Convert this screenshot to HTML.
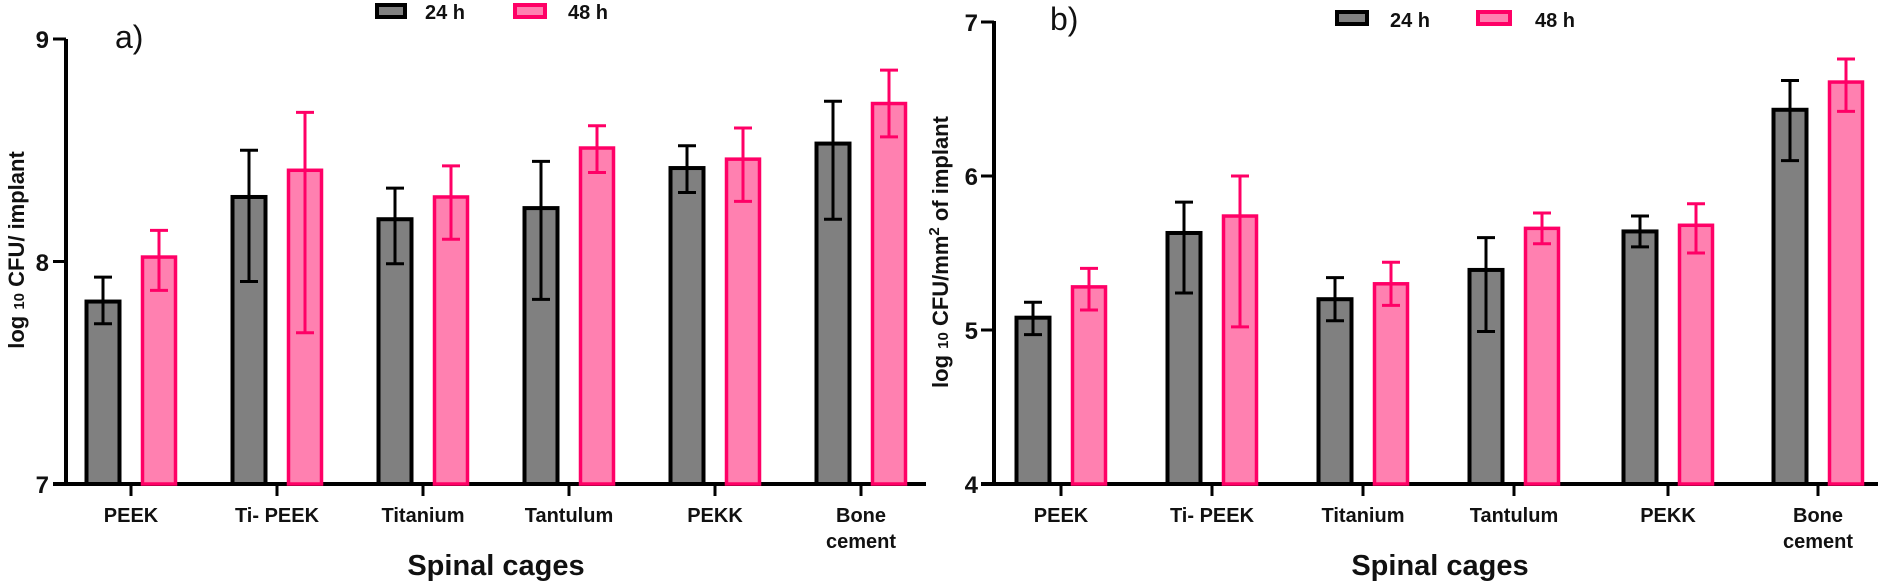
<!DOCTYPE html>
<html><head><meta charset="utf-8"><style>
html,body{margin:0;padding:0;background:#fff;}
svg{display:block;}
text{font-family:"Liberation Sans",Arial,sans-serif;font-weight:bold;fill:#111;}
</style></head><body>
<svg id="s" width="1878" height="584" viewBox="0 0 1878 584" xmlns="http://www.w3.org/2000/svg">
<line x1="66" y1="39" x2="66" y2="486" stroke="#000" stroke-width="4"/>
<line x1="53" y1="484" x2="926" y2="484" stroke="#000" stroke-width="4"/>
<line x1="53" y1="39" x2="66" y2="39" stroke="#000" stroke-width="3"/>
<line x1="53" y1="261.5" x2="66" y2="261.5" stroke="#000" stroke-width="3"/>
<text x="49" y="48" font-size="24" text-anchor="end">9</text>
<text x="49" y="271" font-size="24" text-anchor="end">8</text>
<text x="49" y="493" font-size="24" text-anchor="end">7</text>
<text x="115" y="48" font-size="32" style="font-weight:normal">a)</text>
<text transform="translate(24,250) rotate(-90)" font-size="22" text-anchor="middle">log <tspan font-size="15">10</tspan> CFU/ implant</text>
<text x="131" y="522" font-size="20" text-anchor="middle">PEEK</text>
<text x="277" y="522" font-size="20" text-anchor="middle">Ti- PEEK</text>
<text x="423" y="522" font-size="20" text-anchor="middle">Titanium</text>
<text x="569" y="522" font-size="20" text-anchor="middle">Tantulum</text>
<text x="715" y="522" font-size="20" text-anchor="middle">PEKK</text>
<text x="861" y="522" font-size="20" text-anchor="middle">Bone</text>
<text x="861" y="548" font-size="20" text-anchor="middle">cement</text>
<text x="496" y="575" font-size="29" text-anchor="middle">Spinal cages</text>
<rect x="377" y="5" width="28" height="12" fill="#808080" stroke="#000" stroke-width="4"/>
<text x="425" y="19" font-size="20">24 h</text>
<rect x="515" y="5" width="30" height="12" fill="#ff80b0" stroke="#ff0066" stroke-width="4"/>
<text x="568" y="19" font-size="20">48 h</text>

<line x1="994" y1="21" x2="994" y2="486" stroke="#000" stroke-width="4"/>
<line x1="981" y1="484" x2="1878" y2="484" stroke="#000" stroke-width="4"/>
<line x1="981" y1="22" x2="994" y2="22" stroke="#000" stroke-width="3"/>
<line x1="981" y1="176" x2="994" y2="176" stroke="#000" stroke-width="3"/>
<line x1="981" y1="330" x2="994" y2="330" stroke="#000" stroke-width="3"/>
<text x="978" y="31" font-size="24" text-anchor="end">7</text>
<text x="978" y="185" font-size="24" text-anchor="end">6</text>
<text x="978" y="339" font-size="24" text-anchor="end">5</text>
<text x="978" y="493" font-size="24" text-anchor="end">4</text>
<text x="1050" y="30" font-size="32" style="font-weight:normal">b)</text>
<text transform="translate(948,252) rotate(-90)" font-size="22" text-anchor="middle">log <tspan font-size="15">10</tspan> CFU/mm<tspan font-size="15" dy="-9">2</tspan><tspan dy="9"> of implant</tspan></text>
<text x="1061" y="522" font-size="20" text-anchor="middle">PEEK</text>
<text x="1212" y="522" font-size="20" text-anchor="middle">Ti- PEEK</text>
<text x="1363" y="522" font-size="20" text-anchor="middle">Titanium</text>
<text x="1514" y="522" font-size="20" text-anchor="middle">Tantulum</text>
<text x="1668" y="522" font-size="20" text-anchor="middle">PEKK</text>
<text x="1818" y="522" font-size="20" text-anchor="middle">Bone</text>
<text x="1818" y="548" font-size="20" text-anchor="middle">cement</text>
<text x="1440" y="575" font-size="29" text-anchor="middle">Spinal cages</text>
<rect x="1337" y="12" width="30" height="12" fill="#808080" stroke="#000" stroke-width="4"/>
<text x="1390" y="27" font-size="20">24 h</text>
<rect x="1478" y="12" width="32" height="12" fill="#ff80b0" stroke="#ff0066" stroke-width="4"/>
<text x="1535" y="27" font-size="20">48 h</text>
<g id="bars"></g>
</svg>
<script>
var NS="http://www.w3.org/2000/svg",g=document.getElementById("bars");
function el(t,a){var e=document.createElementNS(NS,t);for(var k in a)e.setAttribute(k,a[k]);g.appendChild(e);}
function panel(ticks,y0,unit,base,data){
 ticks.forEach(function(t,i){
  el("line",{x1:t,y1:486,x2:t,y2:496,stroke:"#000","stroke-width":3});
  var d=data[i];
  [[t-28,d[0],d[1],d[2],"#808080","#000",4],[t+28,d[3],d[4],d[5],"#ff80b0","#ff0066",3.5]].forEach(function(b){
   var y=y0-(b[1]-base)*unit,w=33;
   el("rect",{x:b[0]-w/2,y:y,width:w,height:484-y,fill:b[4],stroke:b[5],"stroke-width":b[6]});
   var hi=y0-(b[3]-base)*unit,lo=y0-(b[2]-base)*unit;
   el("line",{x1:b[0],y1:hi,x2:b[0],y2:lo,stroke:b[5],"stroke-width":3});
   el("line",{x1:b[0]-9,y1:hi,x2:b[0]+9,y2:hi,stroke:b[5],"stroke-width":3});
   el("line",{x1:b[0]-9,y1:lo,x2:b[0]+9,y2:lo,stroke:b[5],"stroke-width":3});
  });
 });
}
panel([131,277,423,569,715,861],484,222.5,7,[
 [7.82,7.72,7.93,8.02,7.87,8.14],
 [8.29,7.91,8.50,8.41,7.68,8.67],
 [8.19,7.99,8.33,8.29,8.10,8.43],
 [8.24,7.83,8.45,8.51,8.40,8.61],
 [8.42,8.31,8.52,8.46,8.27,8.60],
 [8.53,8.19,8.72,8.71,8.56,8.86]]);
panel([1061,1212,1363,1514,1668,1818],484,154,4,[
 [5.08,4.97,5.18,5.28,5.13,5.40],
 [5.63,5.24,5.83,5.74,5.02,6.00],
 [5.20,5.06,5.34,5.30,5.16,5.44],
 [5.39,4.99,5.60,5.66,5.56,5.76],
 [5.64,5.54,5.74,5.68,5.50,5.82],
 [6.43,6.10,6.62,6.61,6.42,6.76]]);
</script>
</body></html>
